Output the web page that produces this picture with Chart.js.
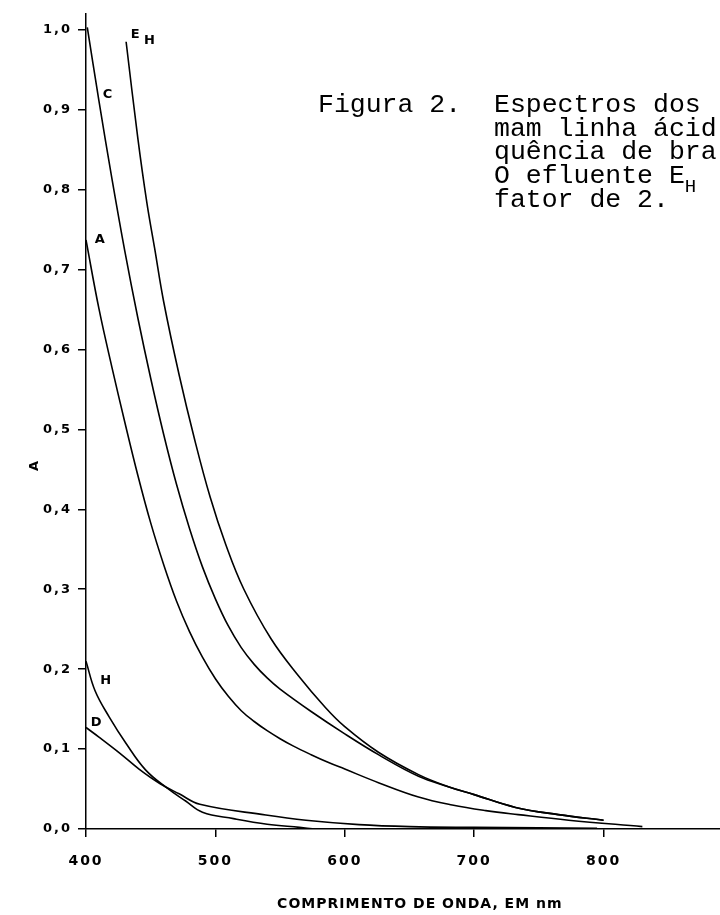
<!DOCTYPE html>
<html lang="pt">
<head>
<meta charset="UTF-8">
<title>Figura 2 - Espectros</title>
<script src="https://cdn.jsdelivr.net/npm/chart.js@4.4.1/dist/chart.umd.min.js"></script>
<style>
  html, body { margin: 0; padding: 0; background: #fff; }
  #grafico { display: block; }
</style>
</head>
<body>
<canvas id="grafico" width="720" height="915"></canvas>
<script>
// valores: comprimento de onda (nm) e absorbancia (A)
const nmEH  = [431, 440, 447, 453, 460, 472, 484, 496, 508, 522, 543, 564, 585, 600, 626, 657, 680, 700, 732, 765, 800];
const absEH = [0.985, 0.865, 0.784, 0.727, 0.660, 0.568, 0.487, 0.415, 0.356, 0.300, 0.238, 0.192, 0.152, 0.128, 0.096, 0.068, 0.053, 0.043, 0.027, 0.018, 0.011];

const nmC  = [401, 410, 420, 430, 440, 450, 460, 470, 480, 490, 500, 510, 520, 530, 540, 550, 574, 600, 626, 657, 680, 700, 732, 765, 800];
const absC = [1.003, 0.911, 0.814, 0.723, 0.640, 0.564, 0.494, 0.431, 0.376, 0.328, 0.288, 0.254, 0.227, 0.206, 0.189, 0.175, 0.147, 0.119, 0.093, 0.066, 0.053, 0.043, 0.027, 0.018, 0.011];

const nmA  = [400, 410, 420, 430, 440, 450, 460, 470, 480, 490, 500, 510, 520, 530, 540, 550, 560, 574, 587, 600, 626, 657, 683, 709, 734, 773, 830];
const absA = [0.737, 0.651, 0.578, 0.509, 0.443, 0.383, 0.331, 0.285, 0.247, 0.215, 0.188, 0.166, 0.148, 0.1345, 0.123, 0.113, 0.104, 0.093, 0.0835, 0.075, 0.058, 0.040, 0.030, 0.023, 0.018, 0.011, 0.003];

const nmH  = [400, 407, 418, 431, 446, 462, 477, 490, 514, 540, 565, 577];
const absH = [0.210, 0.173, 0.140, 0.107, 0.074, 0.052, 0.035, 0.021, 0.013, 0.006, 0.002, 0.0];

const nmD  = [400, 410, 426, 441, 457, 472, 488, 539, 570, 611, 650, 700, 750, 795];
const absD = [0.127, 0.115, 0.095, 0.075, 0.057, 0.044, 0.031, 0.0175, 0.011, 0.0055, 0.003, 0.002, 0.0015, 0.001];

// marcas dos eixos
const ticksX = [400, 500, 600, 700, 800];
const ticksY = [0, 0.1, 0.2, 0.3, 0.4, 0.5, 0.6, 0.7, 0.8, 0.9, 1.0];

// textos
const tituloX = 'COMPRIMENTO DE ONDA, EM nm';
const tituloY = 'A';
const legenda = ['Espectros dos', 'mam linha ácid', 'quência de bra', 'O efluente E', 'fator de 2.'];

// rotulos das curvas (texto, nm, A)
const rotulos = [
  ['E', 438, 0.994], ['C', 416.6, 0.919], ['A', 410.6, 0.737],
  ['H', 415.2, 0.186], ['D', 407.8, 0.133]
];

function pontos(xs, ys) {
  return xs.map((v, i) => ({ x: v, y: ys[i] }));
}

function curva(xs, ys) {
  return {
    data: pontos(xs, ys),
    showLine: true,
    borderColor: '#000',
    borderWidth: 1.6,
    pointRadius: 0,
    fill: false,
    tension: 0.4
  };
}

const textos = {
  id: 'textos',
  beforeDraw(chart) {
    chart.ctx.letterSpacing = '2px';
  },
  afterDraw(chart) {
    const { ctx, chartArea } = chart;
    const x = chart.scales.x, y = chart.scales.y;
    ctx.save();
    ctx.fillStyle = '#000';

    // rotulos junto as curvas
    ctx.letterSpacing = '0px';
    ctx.font = 'bold 13px "DejaVu Sans"';
    ctx.textAlign = 'center';
    ctx.textBaseline = 'middle';
    rotulos.forEach(r => ctx.fillText(r[0], x.getPixelForValue(r[1]), y.getPixelForValue(r[2])));
    ctx.fillText('H', x.getPixelForValue(449), y.getPixelForValue(0.986));

    // titulo do eixo x
    ctx.letterSpacing = '1px';
    ctx.font = 'bold 14px "DejaVu Sans"';
    ctx.textBaseline = 'alphabetic';
    ctx.fillText(tituloX, x.getPixelForValue(658), chartArea.bottom + 79);

    // titulo do eixo y
    ctx.save();
    ctx.translate(35, y.getPixelForValue(0.455));
    ctx.rotate(-Math.PI / 2);
    ctx.font = 'bold 13px "DejaVu Sans"';
    ctx.textBaseline = 'middle';
    ctx.fillText(tituloY, 0, 0);
    ctx.restore();

    // legenda datilografada
    ctx.letterSpacing = '0px';
    ctx.font = '26.5px "Liberation Mono"';
    ctx.textAlign = 'left';
    ctx.textBaseline = 'alphabetic';
    const linhas = [112, 135.5, 159, 182.5, 207];
    ctx.fillText('Figura 2.', 318, linhas[0]);
    legenda.forEach((t, i) => ctx.fillText(t, 494, linhas[i]));
    const w = ctx.measureText(legenda[3]).width;
    ctx.font = '19px "Liberation Mono"';
    ctx.fillText('H', 494 + w, linhas[3] + 9);

    ctx.restore();
  }
};

const eixo = {
  border: { display: true, color: '#000', width: 1.5 },
  grid: { drawOnChartArea: false, drawTicks: true, tickLength: 8, color: '#000', lineWidth: 1.5 }
};

new Chart(document.getElementById('grafico'), {
  type: 'scatter',
  data: {
    datasets: [
      curva(nmEH, absEH),
      curva(nmC, absC),
      curva(nmA, absA),
      curva(nmH, absH),
      curva(nmD, absD)
    ]
  },
  options: {
    responsive: false,
    animation: false,
    layout: { padding: { top: 11, right: 0, left: 0, bottom: 0 } },
    plugins: { legend: { display: false }, tooltip: { enabled: false } },
    scales: {
      x: {
        ...eixo,
        type: 'linear',
        min: 400,
        max: 890,
        afterFit: s => { s.height = 86; },
        afterBuildTicks: s => { s.ticks = ticksX.map(v => ({ value: v })); },
        ticks: {
          autoSkip: false,
          maxRotation: 0,
          color: '#000',
          padding: 16,
          font: { family: 'DejaVu Sans', size: 14, weight: 'bold' },
          callback: v => String(v)
        }
      },
      y: {
        ...eixo,
        type: 'linear',
        min: 0,
        max: 1.02,
        afterFit: s => { s.width = 86; },
        afterBuildTicks: s => { s.ticks = ticksY.map(v => ({ value: v })); },
        ticks: {
          autoSkip: false,
          color: '#000',
          padding: 6,
          font: { family: 'DejaVu Sans', size: 13, weight: 'bold' },
          callback: v => v.toFixed(1).replace('.', ',')
        }
      }
    }
  },
  plugins: [textos]
});
</script>
</body>
</html>
